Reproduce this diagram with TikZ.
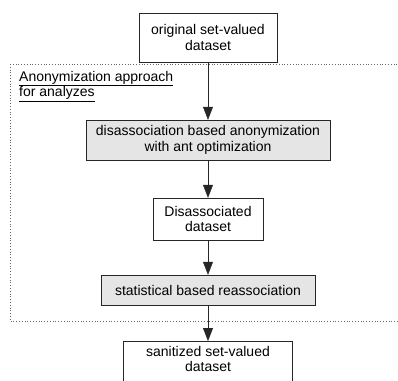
\documentclass[tikz,border=0pt]{standalone}
\usepackage{fontspec}
\setmainfont{Liberation Sans}
\usepackage{tikz}
\usetikzlibrary{arrows.meta}

\begin{document}
\begin{tikzpicture}[x=1pt,y=-1pt,
		font=\fontsize{14}{15.5}\selectfont,
		box/.style={draw=black!85, fill=white, align=center, inner sep=0pt},
		shadedbox/.style={box, fill=black!10},
		flow/.style={draw=black!85, -{Triangle[width=10pt,length=13pt]}}]
				\useasboundingbox (0,0) rectangle (398,380);
				\clip (0,0) rectangle (398,380);

				%Group
				\draw[black!60, dotted, thick] (10,64) rectangle (410,321);
				\node[anchor=north west, align=left, inner sep=0pt] (group) at (19,71)
					{\underline{Anonymization approach}\\\underline{for analyzes}};

				%Nodes
				\node[box, minimum width=138, minimum height=49] (orig) at (208,37.5)
					{original set-valued\\dataset};
				\node[shadedbox, minimum width=244, minimum height=40] (anon) at (208,140)
					{disassociation based anonymization\\with ant optimization};
				\node[box, minimum width=110, minimum height=42] (disso) at (208,219)
					{Disassociated\\dataset};
				\node[shadedbox, minimum width=214, minimum height=30] (reasso) at (208,290)
					{statistical based reassociation};
				\node[box, anchor=north, minimum width=169, minimum height=50,
					label={[anchor=north, align=center, inner sep=0pt, yshift=-5pt]north:sanitized set-valued\\dataset}]
					(sani) at (208,341) {};

				%Lines
				\draw[flow] (orig.south) -- (anon.north);
				\draw[flow] (anon.south) -- (disso.north);
				\draw[flow] (disso.south) -- (reasso.north);
				\draw[flow] (reasso.south) -- (sani.north);

			\end{tikzpicture}
\end{document}
